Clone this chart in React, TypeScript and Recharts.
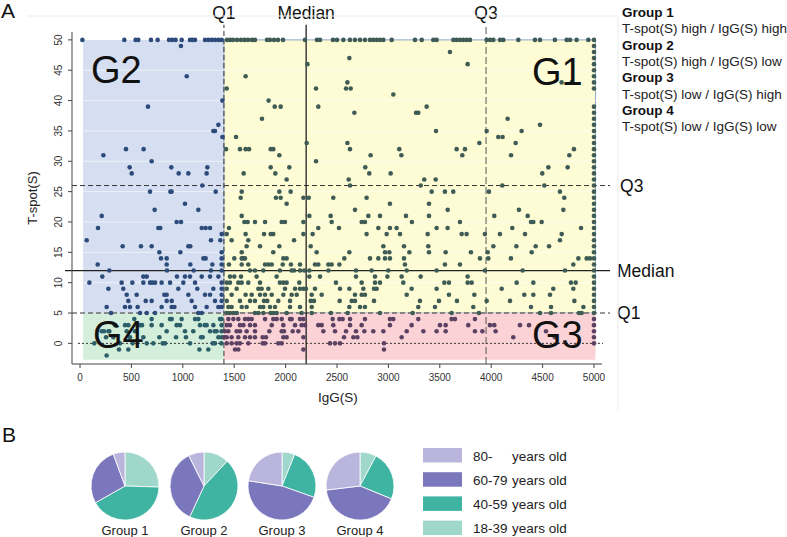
import React from 'react'
import {
  ScatterChart, Scatter, XAxis, YAxis, ReferenceArea, ReferenceLine,
  PieChart, Pie, Cell,
} from 'recharts'

// each row: [T-spot(S) value, IgG(S) values at that level]
const group1Rows: [number, number[]][] = [
  [50, [1430, 1460, 1488, 1527, 1566, 1600, 1634, 1673, 1702, 1819, 1848, 1887, 1926, 1975, 2189, 2305, 2335, 2461, 2500, 2562, 2626, 2675, 2724, 2772, 2821, 2853, 2886, 2918, 2951, 3032, 3259, 3324, 3437, 3469, 3632, 3664, 3697, 3729, 3762, 3794, 3956, 3989, 4021, 4086, 4118, 4264, 4426, 4475, 4620, 4734, 4767, 4831, 4945, 5000]],
  [49, [5000]],
  [48, [3599, 5000]],
  [47, [2620, 5000]],
  [46, [2212, 3771, 5000]],
  [45, [5000]],
  [44, [1611, 5000]],
  [43, [2601, 4685, 4783, 5000]],
  [42, [1427, 2296, 2588, 2633, 5000]],
  [41, [3048]],
  [40, [1835]],
  [39, [1894, 1952, 2318, 3372, 5000]],
  [38, [2669, 3269, 3291, 5000]],
  [37, [1770, 4160, 5000]],
  [36, [4475, 5000]],
  [35, [3463, 3956, 4296, 5000]],
  [34, [1518, 4069, 4111, 5000]],
  [33, [2205, 2601, 3885, 4238, 5000]],
  [32, [1420, 1556, 1611, 1644, 1855, 1880, 2626, 3106, 3664, 3745, 4805, 5000]],
  [31, [1939, 2827, 3126, 3719, 4193, 4760, 5000]],
  [30, [2296, 5000]],
  [29, [1855, 2036, 2775, 4556, 4744, 5000]],
  [28, [1592, 1900, 2814, 3022, 4497, 5000]],
  [27, [2010, 2614, 3349, 3460, 5000]],
  [26, [2627, 3314, 4108, 4517, 5000]],
  [25, [1573, 1939, 2049, 3421, 3550, 3631, 3978, 4669, 5000]],
  [24, [1563, 1906, 1952, 2173, 2225, 2464, 2788, 4711, 5000]],
  [23, [2010, 3015, 3395, 5000]],
  [22, [2675, 3577, 4270, 4702, 5000]],
  [21, [1573, 2231, 2438, 2805, 2918, 3171, 3395, 4030, 4355, 5000]],
  [20, [1599, 1631, 1702, 1800, 1962, 1994, 2173, 2448, 2740, 2772, 3229, 3696, 4387, 4410, 4491, 5000]],
  [19, [1449, 2318, 2519, 2902, 3015, 3080, 3469, 3576, 4205, 4874, 5000]],
  [18, [1427, 1611, 1790, 1855, 1880, 2173, 2263, 2788, 2983, 3113, 3382, 3713, 3761, 3939, 4085, 4329, 4686, 5000]],
  [17, [1475, 1637, 2082, 4669, 5000]],
  [16, [1621, 1751, 1939, 2244, 2951, 3152, 3388, 4021, 4245, 4433, 4563, 5000]],
  [15, [1573, 1880, 2302, 2620, 2967, 3009, 3204, 3395, 3557, 3803, 3966, 4394, 5000]],
  [14, [1501, 1573, 1589, 1605, 1978, 2010, 2571, 2821, 2902, 2967, 3015, 3152, 3891, 3972, 4192, 4848, 4929, 4961, 5000]],
  [13, [1449, 1573, 1637, 1800, 1832, 1865, 1972, 2052, 2140, 2286, 2318, 2416, 2448, 2523, 3161, 3550, 3696, 4799, 5000]],
  [12, [1654, 1702, 1783, 1945, 2059, 2082, 2140, 2182, 2231, 2416, 2685, 2837, 2999, 3178, 3469, 3939, 4306, 4718, 5000]],
  [11, [1459, 1501, 1566, 1718, 1913, 2231, 2335, 2685, 2870, 2990, 3129, 3314, 3771, 5000]],
  [10, [1427, 1459, 1540, 1573, 1637, 1751, 1945, 1978, 2010, 2133, 2490, 2740, 2870, 2918, 3145, 3544, 3589, 3771, 3810, 4248, 4410, 4776, 4822, 5000]],
  [9, [1427, 1524, 1735, 1767, 1832, 1994, 2092, 2140, 2173, 2198, 2286, 2529, 2620, 2756, 2860, 2886, 3226, 3469, 4102, 4604, 4799, 5000]],
  [8, [1475, 1611, 1670, 1751, 1800, 1865, 1978, 2059, 2108, 2254, 2351, 2675, 2740, 2772, 3178, 3589, 3836, 4322, 4410, 4572, 5000]],
  [7, [1427, 1556, 1654, 1702, 1790, 1822, 1929, 2043, 2244, 2276, 2526, 2643, 2675, 2860, 3307, 3492, 3667, 3956, 4183, 4809, 5000]],
  [6, [1443, 1475, 1573, 1621, 1751, 1783, 1848, 1897, 2043, 2140, 2254, 2620, 2724, 2772, 3291, 3453, 3826, 4387, 4582, 4897, 5000]],
  [5, [1427, 1459, 1492, 1524, 1702, 1735, 1783, 1855, 1880, 1913, 2010, 2156, 2254, 2441, 2604, 2918, 3236, 3615, 3881, 4475, 4582, 4854, 4880, 5000]],
]

const group2Rows: [number, number[]][] = [
  [50, [23, 431, 541, 567, 690, 755, 866, 898, 930, 989, 1070, 1093, 1119, 1216, 1248, 1281, 1313, 1346, 1378]],
  [49, [982]],
  [44, [1038]],
  [40, [1385]],
  [39, [661]],
  [36, [1346]],
  [35, [1297, 1313]],
  [34, [1385]],
  [32, [447, 619]],
  [31, [227]],
  [30, [697]],
  [29, [483, 888, 1239]],
  [28, [503, 960, 1054, 1232]],
  [26, [1190]],
  [25, [681, 879, 891, 1320]],
  [23, [1021]],
  [22, [726, 1151]],
  [21, [211]],
  [20, [940, 983]],
  [19, [175, 762, 781, 1184, 1222, 1265]],
  [18, [1378]],
  [17, [65, 1274, 1365]],
  [16, [415, 593, 697, 1054, 1073]],
  [15, [772, 976, 1378]],
  [14, [788, 843, 1200, 1222, 1378]],
  [13, [172, 843, 1073, 1287, 1378]],
  [12, [285, 846, 1106, 1274, 1378]],
  [11, [217, 616, 649, 943, 1021, 1070, 1184, 1265, 1346]],
  [10, [91, 405, 509, 616, 681, 703, 730, 794, 876, 1005, 1119, 1378]],
  [9, [276, 421, 956, 1141, 1297, 1378]],
  [8, [454, 551, 820, 843, 1054, 1216, 1265, 1378]],
  [7, [470, 639, 697, 843, 892, 1086, 1313, 1378]],
  [6, [259, 437, 486, 561, 794, 892, 918, 1119, 1232, 1346, 1378]],
  [5, [302, 584, 649, 730, 1151, 1184]],
]

const group3Rows: [number, number[]][] = [
  [4, [1443, 1492, 1540, 1605, 1637, 1670, 1800, 1880, 1913, 1962, 2043, 2059, 2140, 2173, 2458, 2523, 2555, 2627, 2772, 3015, 3048, 3291, 3615, 3648, 3842, 5000]],
  [3, [1427, 1459, 1556, 1589, 1654, 1702, 1865, 1978, 2092, 2156, 2189, 2318, 2351, 2464, 2627, 2740, 3015, 3226, 3502, 3557, 3777, 3988, 4030, 4280, 4368, 5000]],
  [2, [1410, 1443, 1524, 1556, 1621, 1702, 1842, 1962, 1984, 2069, 2124, 2367, 2481, 2588, 2685, 2766, 2853, 2951, 3178, 3340, 3469, 3557, 3842, 3914, 4043, 4533, 5000]],
  [1, [1404, 1427, 1475, 1540, 1605, 1654, 1702, 1777, 1809, 1978, 2010, 2173, 2568, 2659, 2698, 3129, 4215, 4620, 5000]],
  [0, [1427, 1475, 1524, 1556, 1637, 1777, 1800, 1929, 1962, 2432, 2481, 2529, 2957, 5000]],
  [-1, [1508, 1540, 2173, 2957]],
]

const group4Rows: [number, number[]][] = [
  [4, [528, 697, 875, 892, 989, 1119, 1151, 1362, 1378]],
  [3, [340, 438, 470, 584, 603, 697, 794, 940, 973, 1167, 1213, 1232, 1297, 1378]],
  [2, [211, 233, 276, 285, 454, 535, 843, 1021, 1102, 1265, 1310, 1329, 1378]],
  [1, [253, 324, 486, 616, 772, 934, 1031, 1177, 1193, 1346, 1378]],
  [0, [139, 389, 512, 649, 713, 804, 827, 1070, 1291, 1313, 1375]],
  [-1, [379, 470, 1161, 1248]],
  [-2, [259]],
]

const xTicks = [0, 500, 1000, 1500, 2000, 2500, 3000, 3500, 4000, 4500, 5000]
const yTicks = [0, 5, 10, 15, 20, 25, 30, 35, 40, 45, 50]
const gridLevels = [10, 15, 20, 25, 30, 35, 40, 45]

// cut-offs
const iggQ1 = 1400
const iggMedian = 2200
const iggQ3 = 3950
const tspotQ1 = 5
const tspotMedian = 12
const tspotQ3 = 26

// age share (%) per group, clockwise from 12 o'clock
const ageBands = ['18-39', '40-59', '60-79', '80-']
const group1Ages = [25.5, 41.3, 27.6, 5.6]
const group2Ages = [12.0, 44.9, 35.7, 7.4]
const group3Ages = [6.1, 24.3, 47.1, 22.5]
const group4Ages = [7.8, 23.4, 41.9, 26.9]
const legendBands = ['80-', '60-79', '40-59', '18-39']

const ageColors: Record<string, string> = {
  '80-': '#b9b5dc',
  '60-79': '#7b77bd',
  '40-59': '#3fb4a2',
  '18-39': '#9fd7cb',
}

const font = '"Liberation Sans", Arial, Helvetica, sans-serif'

const toPoints = (rows: [number, number[]][]) =>
  rows.flatMap(([tspot, iggs]) => iggs.map((igg) => ({ igg, tspot })))

const toSlices = (shares: number[]) =>
  ageBands.map((band, i) => ({ band, share: shares[i] }))

const dot = (fill: string) => (p: any) => (
  <circle cx={p.cx} cy={p.cy} r={2.3} fill={fill} />
)

const YTick = (p: any) => (
  <text
    x={p.x - 4}
    y={p.y}
    transform={`rotate(-90 ${p.x - 4} ${p.y})`}
    textAnchor="middle"
    fontSize={10}
    fill="#333"
    fontFamily={font}
  >
    {p.payload.value}
  </text>
)

const pies = [
  { name: 'Group 1', cx: 125, shares: group1Ages },
  { name: 'Group 2', cx: 204, shares: group2Ages },
  { name: 'Group 3', cx: 282, shares: group3Ages },
  { name: 'Group 4', cx: 360, shares: group4Ages },
]

const groupNotes = [
  ['Group 1', 'T-spot(S) high / IgG(S) high'],
  ['Group 2', 'T-spot(S) high / IgG(S) low'],
  ['Group 3', 'T-spot(S) low / IgG(S) high'],
  ['Group 4', 'T-spot(S) low / IgG(S) low'],
]

const lineLabel = (value: string, position: any, offset: number) => ({
  value, position, offset, fontSize: 17.5, fill: '#111', fontFamily: font,
})

export default function App() {
  return (
    <div style={{ position: 'absolute', left: 0, top: 0, width: 787, height: 537, background: '#fff', fontFamily: font }}>
      <div style={{ position: 'absolute', left: 0, top: 0 }}>
        <ScatterChart width={787} height={410} margin={{ top: 32, right: 185, left: 32, bottom: 16 }}>
          <XAxis
            type="number"
            dataKey="igg"
            domain={[-78, 5078]}
            allowDataOverflow
            ticks={xTicks}
            height={30}
            tickSize={4}
            tickMargin={6}
            stroke="#444"
            tick={{ fontSize: 10, fill: '#333', fontFamily: font }}
          />
          <YAxis
            type="number"
            dataKey="tspot"
            domain={[-3.4, 51.3]}
            allowDataOverflow
            ticks={yTicks}
            width={40}
            tickSize={4}
            stroke="#444"
            tick={<YTick />}
          />
          <ReferenceArea x1={30} x2={iggQ1} y1={tspotQ1} y2={50} fill="#d5dff1" fillOpacity={1} />
          <ReferenceArea x1={iggQ1} x2={5015} y1={tspotQ1} y2={50} fill="#fdfcd4" fillOpacity={1} stroke="#8ea6c9" />
          <ReferenceArea x1={30} x2={iggQ1} y1={-2.7} y2={tspotQ1} fill="#d4eedc" fillOpacity={1} />
          <ReferenceArea x1={iggQ1} x2={5015} y1={-2.7} y2={tspotQ1} fill="#fbd3d6" fillOpacity={1} />
          {gridLevels.map((v) => (
            <ReferenceLine key={v} y={v} stroke="#ffffff" strokeOpacity={0.6} />
          ))}
          <ReferenceLine
            segment={[{ x: -20, y: 0 }, { x: 5088, y: 0 }]}
            ifOverflow="visible"
            stroke="#333"
            strokeDasharray="2 2"
          />
          <ReferenceLine
            segment={[{ x: -78, y: tspotQ1 }, { x: 5156, y: tspotQ1 }]}
            ifOverflow="visible"
            stroke="#333"
            strokeDasharray="5 3"
            label={lineLabel('Q1', 'right', 7)}
          />
          <ReferenceLine
            segment={[{ x: -146, y: tspotMedian }, { x: 5156, y: tspotMedian }]}
            ifOverflow="visible"
            stroke="#222"
            strokeWidth={1.3}
            label={lineLabel('Median', 'right', 7)}
          />
          <ReferenceLine
            segment={[{ x: -78, y: tspotQ3 }, { x: 5156, y: tspotQ3 }]}
            ifOverflow="visible"
            stroke="#333"
            strokeDasharray="5 3"
            label={lineLabel('Q3', 'right', 10)}
          />
          <ReferenceLine
            segment={[{ x: iggQ1, y: -3.4 }, { x: iggQ1, y: 52.5 }]}
            ifOverflow="visible"
            stroke="#333"
            strokeDasharray="5 3"
            label={lineLabel('Q1', 'top', 6)}
          />
          <ReferenceLine
            segment={[{ x: iggMedian, y: -3.4 }, { x: iggMedian, y: 52.5 }]}
            ifOverflow="visible"
            stroke="#222"
            strokeWidth={1.3}
            label={lineLabel('Median', 'top', 6)}
          />
          <ReferenceLine
            segment={[{ x: iggQ3, y: -3.4 }, { x: iggQ3, y: 52.5 }]}
            ifOverflow="visible"
            stroke="#555"
            strokeDasharray="7 3"
            label={lineLabel('Q3', 'top', 6)}
          />
          <Scatter data={toPoints(group2Rows)} shape={dot('#2d4b7a')} isAnimationActive={false} />
          <Scatter data={toPoints(group1Rows)} shape={dot('#3e5b55')} isAnimationActive={false} />
          <Scatter data={toPoints(group4Rows)} shape={dot('#2c5e69')} isAnimationActive={false} />
          <Scatter data={toPoints(group3Rows)} shape={dot('#5b4263')} isAnimationActive={false} />
        </ScatterChart>
      </div>

      <div style={{ position: 'absolute', left: 0, top: 440 }}>
        <PieChart width={400} height={92} margin={{ top: 0, right: 0, bottom: 0, left: 0 }}>
          {pies.map((p) => (
            <Pie
              key={p.name}
              data={toSlices(p.shares)}
              dataKey="share"
              nameKey="band"
              cx={p.cx}
              cy={46}
              outerRadius={34}
              startAngle={90}
              endAngle={-270}
              stroke="#ffffff"
              strokeWidth={0.8}
              isAnimationActive={false}
            >
              {ageBands.map((b) => (
                <Cell key={b} fill={ageColors[b]} />
              ))}
            </Pie>
          ))}
        </PieChart>
      </div>

      <svg width={787} height={537} style={{ position: 'absolute', left: 0, top: 0, pointerEvents: 'none' }} fontFamily={font}>
        <line x1={27} y1={16} x2={618} y2={16} stroke="#ececec" />
        <line x1={618} y1={16} x2={618} y2={410} stroke="#ececec" />
        <text x={1} y={18} fontSize={21} fill="#111">A</text>
        <text x={2} y={442} fontSize={21} fill="#111">B</text>
        <text x={91} y={83} fontSize={38} fill="#111">G2</text>
        <text x={532} y={85} fontSize={38} fill="#111">G1</text>
        <text x={93} y={348} fontSize={38} fill="#111">G4</text>
        <text x={532} y={348} fontSize={38} fill="#111">G3</text>
        <text x={37} y={198} fontSize={13} fill="#222" textAnchor="middle" transform="rotate(-90 37 198)">T-spot(S)</text>
        <text x={338} y={402} fontSize={13.5} fill="#222" textAnchor="middle">IgG(S)</text>
        {groupNotes.map(([head, body], i) => (
          <g key={head}>
            <text x={622} y={17 + i * 32.6} fontSize={13.5} fontWeight="bold" fill="#111">{head}</text>
            <text x={622} y={33.3 + i * 32.6} fontSize={13.5} fill="#222">{body}</text>
          </g>
        ))}
        {pies.map((p) => (
          <text key={p.name} x={p.cx} y={535} fontSize={13} fill="#222" textAnchor="middle">{p.name}</text>
        ))}
        {legendBands.map((b, i) => (
          <g key={b}>
            <rect x={423} y={448 + i * 24.2} width={39} height={14.5} fill={ageColors[b]} />
            <text x={473} y={460.5 + i * 24.2} fontSize={13.5} fill="#222">{b}</text>
            <text x={512} y={460.5 + i * 24.2} fontSize={13.5} fill="#222">years old</text>
          </g>
        ))}
      </svg>
    </div>
  )
}
